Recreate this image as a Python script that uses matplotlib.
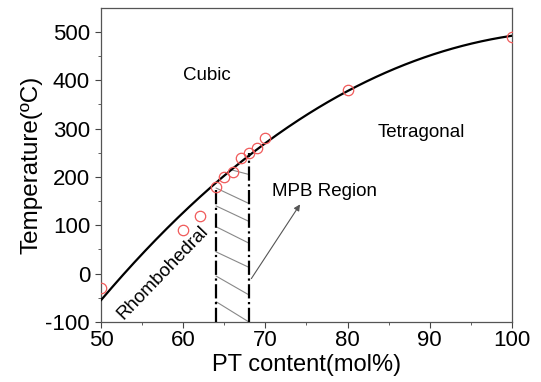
import numpy as np
import matplotlib.pyplot as plt
from matplotlib.ticker import FuncFormatter

plt.rcParams['font.family'] = ['Liberation Sans', 'DejaVu Sans']

# measured points (open red circles)
pt_content = [50, 60, 62, 64, 65, 66, 67, 68, 69, 70, 80, 100]
temperature = [-30, 90, 120, 180, 200, 210, 240, 250, 260, 280, 380, 490]

# phase boundary curve
curve_x = [50, 55, 60, 64, 68, 70, 75, 80, 85, 90, 95, 100]
curve_t = [-53, 40, 128, 177, 250, 274, 330, 377, 417, 449, 475, 493]

# MPB region boundaries
mpb_left, mpb_right = 64, 68
mpb_left_top, mpb_right_top = 177, 250

# hatch lines inside the MPB region (start x, start T, end T at right boundary)
hatch_x0 = [66, 64, 64, 64, 64, 64, 64]
hatch_t0 = [214, 177, 140, 97, 45, -5, -58]
hatch_t1 = [205, 145, 108, 63, 13, -44, -100]

fig, ax = plt.subplots(figsize=(5.41, 3.82), dpi=100)
fig.subplots_adjust(left=0.187, right=0.946, top=0.980, bottom=0.157)

# fitted curve
coef = np.polyfit(curve_x, curve_t, 3)
xs = np.linspace(50, 100, 300)
ax.plot(xs, np.polyval(coef, xs), color='black', lw=1.6, zorder=3)

ax.plot(pt_content, temperature, 'o', mfc='none', mec='#f05a5a',
        ms=7.5, mew=0.9, zorder=4)

# hatch
for x0, t0, t1 in zip(hatch_x0, hatch_t0, hatch_t1):
    ax.plot([x0, mpb_right], [t0, t1], color='#888888', lw=0.8, zorder=2)

ax.plot([mpb_left, mpb_left], [-100, mpb_left_top], color='black',
        lw=1.6, ls='-.', zorder=3)
ax.plot([mpb_right, mpb_right], [-100, mpb_right_top], color='black',
        lw=1.6, ls='-.', zorder=3)

ax.annotate('', xy=(74.4, 148), xytext=(68.1, -15),
            arrowprops=dict(arrowstyle='-|>', color='#555555', lw=0.8,
                            mutation_scale=9))

ax.text(70.8, 170, 'MPB Region', fontsize=13.5, va='center', ha='left')
ax.text(60, 409, 'Cubic', fontsize=13.5, va='center', ha='left')
ax.text(83.7, 291, 'Tetragonal', fontsize=13.5, va='center', ha='left')
ax.text(57.5, 1, 'Rhombohedral', fontsize=13.5, va='center', ha='center',
        rotation=46, rotation_mode='anchor')

ax.set_xlim(50, 100)
ax.set_ylim(-100, 550)
ax.set_xticks([50, 60, 70, 80, 90, 100])
ax.set_xticks(np.arange(55, 100, 10), minor=True)
ax.set_yticks([-100, 0, 100, 200, 300, 400, 500])
ax.set_yticks(np.arange(-50, 550, 100), minor=True)
ax.yaxis.set_major_formatter(FuncFormatter(lambda v, p: '%d' % v))
ax.tick_params(which='both', direction='out', labelsize=16, color='#444444')
ax.tick_params(which='major', length=4)
ax.tick_params(which='minor', length=2.5)
ax.tick_params(axis='x', which='major', pad=2)
ax.tick_params(axis='y', which='major', pad=4)

for s in ax.spines.values():
    s.set_color('#555555')
    s.set_linewidth(0.9)

ax.set_xlabel('PT content(mol%)', fontsize=17, labelpad=2)
ax.set_ylabel('Temperature(ºC)', fontsize=17.5, labelpad=2)

fig.savefig('out.png', dpi=100)
